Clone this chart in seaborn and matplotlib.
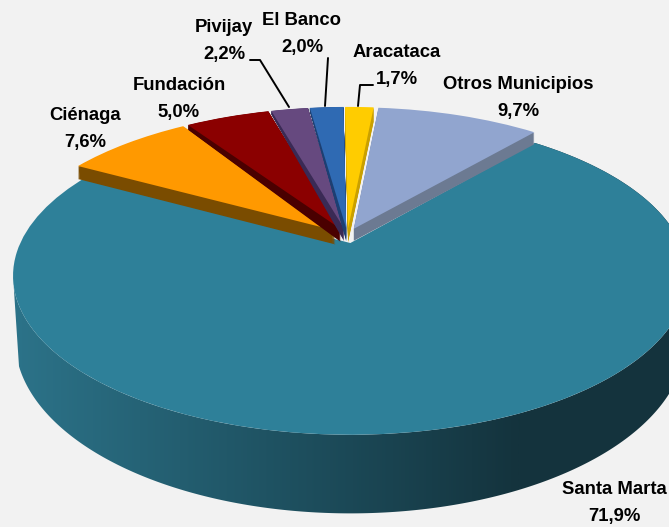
import matplotlib
matplotlib.use('Agg')
import matplotlib.pyplot as plt
import matplotlib.patches as mpatches
import matplotlib.transforms as mtransforms
import matplotlib.colors as mcolors
import numpy as np
import seaborn as sns

names = ['Otros Municipios', 'Santa Marta', 'Ciénaga', 'Fundación', 'Pivijay', 'El Banco', 'Aracataca']
shares = [9.7, 71.9, 7.6, 5.0, 2.2, 2.0, 1.7]
top_colors = ['#91a5cf', '#2e8099', '#ff9900', '#8b0000', '#66497f', '#2f6ab3', '#ffcc00']
side_colors = ['#6c7a92', '#1e4f5e', '#7a4c00', '#4a0000', '#3a2a55', '#1d3f72', '#c9a000']
side_depth = [12, 0, 14, 14, 14, 14, 14]
side_taper = [0, 0, 2, 12, 12, 12, 0]
draw_rank = [5, 0, 1, 2, 3, 4, 6]
label_pos = [(518, 98), (614, 503), (85, 129), (179, 99), (224, 41), (302, 34), (397, 66)]

BG = '#f2f2f2'
START = 5.4
EXPLODE = 0.05
CENTER = (-0.008, 0.049)


class Perspective(mtransforms.Transform):
    # tilted disc seen from the front, output is in pixels
    input_dims = output_dims = 2
    has_inverse = False

    def __init__(self, x0, y0, rx, ry, k=0.207):
        super().__init__()
        self.x0, self.y0, self.rx, self.ry, self.k = x0, y0, rx, ry, k

    def transform_non_affine(self, values):
        v = np.asarray(values, dtype=float)
        w = 1 + self.k * v[:, 1]
        return np.column_stack([self.x0 + self.rx * v[:, 0] / w,
                                self.y0 - self.ry * v[:, 1] / w])


sns.set_theme(style='white')
plt.rcParams['font.family'] = ['Liberation Sans', 'DejaVu Sans']

fig = plt.figure(figsize=(6.69, 5.27), dpi=100, facecolor=BG)
ax = fig.add_axes([0, 0, 1, 1], facecolor=BG)

top_view = Perspective(350, 243, 330, 152)
bottom_view = Perspective(350, 304, 328, 166)


def draw_slice(index, view, colors, zorder):
    wedges, _ = ax.pie(shares, explode=[EXPLODE] * len(shares), colors=colors, center=CENTER,
                       startangle=90 - START, counterclock=False, wedgeprops={'linewidth': 0})
    for i, w in enumerate(wedges):
        if i != index:
            w.remove()
            continue
        w.set_transform(view + ax.transData)
        w.set_zorder(zorder)


# side of the big slice: horizontal gradient clipped to the rim band
total = sum(shares)
a1 = START + shares[0] / total * 360
a2 = a1 + shares[1] / total * 360
edges = np.radians(np.linspace(a1, a2, 400))
mid = np.radians(a1 + shares[1] / total * 180)
cx = EXPLODE * np.sin(mid) + CENTER[0]
cy = EXPLODE * np.cos(mid) + CENTER[1]
rim = np.column_stack([cx + np.sin(edges), cy + np.cos(edges)])
rim_top = top_view.transform_non_affine(rim)
rim_bottom = bottom_view.transform_non_affine(rim)
left_top = np.argmin(rim_top[:, 0])
# the left end of the band runs straight from the widest point down to the lower rim
left_bottom = np.argmin(rim_bottom[:, 0] + 0.35 * np.abs(rim_bottom[:, 1] - 367))
band = np.vstack([rim_top[:left_top + 1], rim_bottom[:left_bottom + 1][::-1]])
wall_cmap = mcolors.ListedColormap(sns.blend_palette(['#2c7389', '#1f5363', '#14333d'], 256))
grad = np.linspace(0, 1, 520)[None, :]
img = ax.imshow(grad, cmap=wall_cmap, extent=(13, 520, 527, 0), aspect='auto', zorder=1)
img2 = ax.imshow([[1, 1]], cmap=wall_cmap, vmin=0, vmax=1, extent=(520, 669, 527, 0), aspect='auto', zorder=1)
img3 = ax.imshow([[0, 0]], cmap=wall_cmap, vmin=0, vmax=1, extent=(0, 13, 527, 0), aspect='auto', zorder=1)
clip = mpatches.Polygon(band, closed=True, transform=ax.transData)
for im in (img, img2, img3):
    im.set_clip_path(clip)

# short sides of the small slices (stacked copies), then every top
for i in range(len(shares)):
    for offset in range(side_depth[i], 0, -1):
        grow = side_taper[i] * offset / max(side_depth[i], 1)
        view = Perspective(350, 243 + offset, 330, 152 + grow)
        draw_slice(i, view, side_colors, 100 * (draw_rank[i] + 1) + 20 - offset)
    draw_slice(i, top_view, top_colors, 100 * (draw_rank[i] + 1) + 50)

ax.set_xlim(0, 669)
ax.set_ylim(527, 0)
ax.set_aspect('auto')

for name, share, (x, y) in zip(names, shares, label_pos):
    label = name + '\n' + f'{share:.1f}%'.replace('.', ',')
    ax.text(x, y, label, ha='center', va='center', fontsize=13.3, fontweight='bold',
            color='black', linespacing=1.72, zorder=2000)

ax.plot([250, 260, 289], [60, 60, 107], color='black', lw=1.4, zorder=1500)
ax.plot([328, 325], [58, 106], color='black', lw=1.4, zorder=1500)
ax.plot([373, 360, 358], [85, 85, 106], color='black', lw=1.4, zorder=1500)

fig.savefig('out.png', dpi=100, facecolor=BG)
